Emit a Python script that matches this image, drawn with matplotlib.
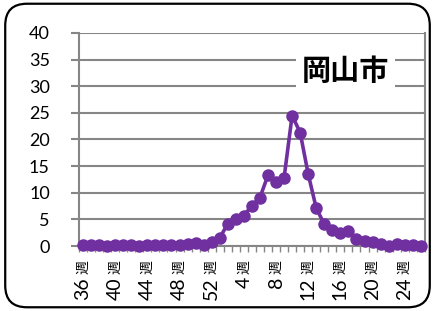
import matplotlib
matplotlib.use("Agg")
import matplotlib.pyplot as plt
from matplotlib.patches import FancyBboxPatch
from matplotlib.ticker import MultipleLocator, FixedLocator
from matplotlib.transforms import offset_copy
import numpy as np

plt.rcParams['font.family'] = ['Lato', 'Noto Sans CJK JP', 'DejaVu Sans']

# 週 numbers: week 36 to 52, then 1 to 26
weeks = list(range(36, 53)) + list(range(1, 27))
values = [0.1, 0.1, 0.1, 0.0, 0.1, 0.1, 0.1, 0.0, 0.1, 0.1, 0.1, 0.1, 0.2, 0.3,
          0.5, 0.2, 0.8,
          1.5, 4.2, 5.1, 5.7, 7.6, 9.1, 13.3, 12.0, 12.8, 24.5, 21.3, 13.5, 7.1,
          4.1, 3.0, 2.5, 2.8, 1.4, 1.0, 0.7, 0.4, 0.0, 0.4, 0.2, 0.1, 0.0]
week_suffix = "週"
title = "岡山市"

purple = '#7030A0'
grid_c = '#868686'

fig = plt.figure(figsize=(4.35, 3.11), dpi=100)

# rounded outer frame
frame = FancyBboxPatch((0.012, 0.012), 0.976, 0.976,
                       boxstyle="round,pad=0,rounding_size=0.05",
                       transform=fig.transFigure, fill=False,
                       edgecolor='black', linewidth=1.6, mutation_aspect=435/311)
fig.patches.append(frame)

ax = fig.add_axes([0.1816, 0.209, 0.795, 0.685])
x = np.arange(len(values))
ax.plot(x, values, color=purple, linewidth=2.6, marker='o', markersize=8,
        zorder=3, clip_on=False)

ax.set_xlim(-0.5, len(values) - 0.5)
ax.set_ylim(0, 40)
ax.yaxis.set_major_locator(MultipleLocator(5))
ax.grid(True, axis='y', color=grid_c, linewidth=1.5)
ax.set_axisbelow(True)

for s in ['left', 'right', 'bottom']:
    ax.spines[s].set_color(grid_c)
    ax.spines[s].set_linewidth(1.5)
ax.spines['top'].set_visible(False)

# category labels: every 4th week, digits big, 週 small (drawn as text)
sel = [i for i in range(len(weeks)) if i % 4 == 0]
ax.xaxis.set_major_locator(FixedLocator(sel))
ax.set_xticklabels([])
ax.xaxis.set_minor_locator(FixedLocator(np.arange(-0.5, len(values), 1)))
ax.tick_params(axis='x', which='major', length=0)
ax.tick_params(axis='x', which='minor', length=4, color=grid_c, width=1)
ax.tick_params(axis='y', length=6, color=grid_c, width=1.5, pad=15, labelsize=13)

xt = ax.get_xaxis_transform()
t_suffix = offset_copy(xt, fig=fig, y=-14, units='dots')
t_num = offset_copy(xt, fig=fig, y=-31, units='dots')
for i in sel:
    ax.text(i, 0, week_suffix, transform=t_suffix, rotation=90, fontsize=10,
            ha='center', va='top', family=['Noto Sans CJK JP'])
    ax.text(i, 0, str(weeks[i]), transform=t_num, rotation=90, fontsize=14,
            ha='center', va='top')

ax.text(0.77, 0.82, title, transform=ax.transAxes, fontsize=21, fontweight='bold',
        family=['Noto Sans CJK JP'], ha='center', va='center',
        bbox=dict(facecolor='white', edgecolor='none', pad=4), zorder=4)

fig.savefig('out.png', dpi=100)
